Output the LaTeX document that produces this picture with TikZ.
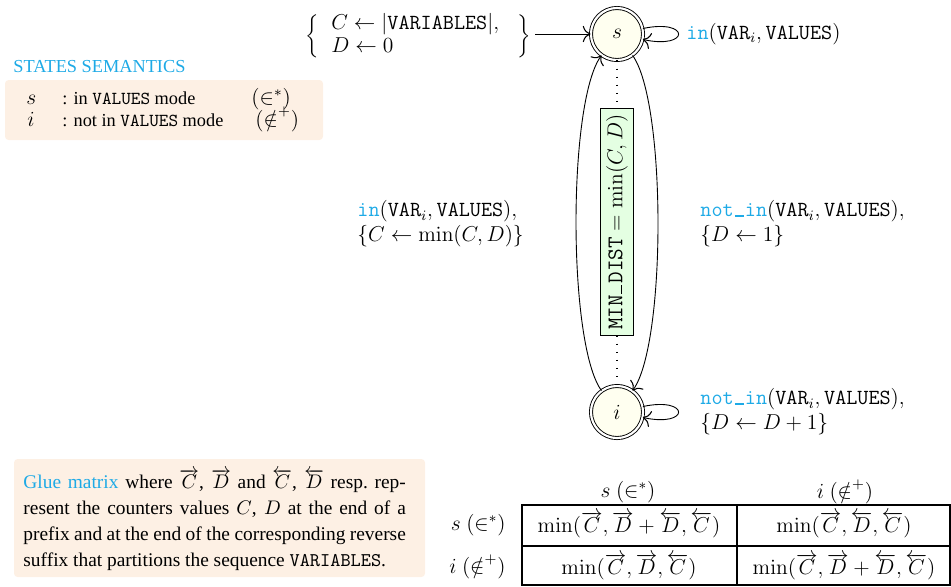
\documentclass[tikz,border=0pt]{standalone}
\usepackage[no-math]{fontspec}
\setmainfont{Liberation Serif}
\usetikzlibrary{arrows.meta}

\definecolor{kwblue}{RGB}{30,170,230}
\definecolor{notefill}{RGB}{253,240,228}
\definecolor{statefill}{RGB}{255,255,240}
\definecolor{boxgreen}{RGB}{228,255,226}

% underscore drawn as a rule on the baseline, as in OT1 typewriter text
\newcommand{\usc}{\kern0.05em\rule{0.42em}{0.8pt}\kern0.05em}
\newcommand{\kw}[1]{\textcolor{kwblue}{\texttt{#1}}}
\newcommand{\Cfw}{\overrightarrow{C}}
\newcommand{\Dfw}{\overrightarrow{D}}
\newcommand{\Cbw}{\overleftarrow{C}}
\newcommand{\Dbw}{\overleftarrow{D}}

\begin{document}
\begin{tikzpicture}[x=0.557pt, y=-0.557pt, line width=0.5pt,
  >={Computer Modern Rightarrow[scale=1.6, line width=0.6pt]},
  every node/.style={font=\fontsize{10.8}{14.5}\selectfont},
  state/.style={circle, draw, double, double distance=1.2pt, fill=statefill,
                minimum size=29pt, inner sep=0pt, font=\large},
  mathlbl/.style={align=left, anchor=west, inner sep=0pt,
                  font=\fontsize{12}{14}\selectfont},
  semtext/.style={anchor=base west, inner sep=0pt, font=\fontsize{10.2}{12}\selectfont},
  semmath/.style={anchor=base west, inner sep=0pt, font=\fontsize{12}{14}\selectfont},
  cell/.style={inner sep=0pt, font=\fontsize{12}{14}\selectfont},
  dots/.style={dash pattern=on 0.6pt off 3.9pt, line width=0.7pt},
  gridline/.style={line width=1.2pt},
  notebox/.style={fill=notefill, rounded corners=2pt}]
\useasboundingbox (0,0) rectangle (951,586);

% automaton states
\node[state] (s) at (617,34) {$s$};
\node[state] (i) at (617,412) {$i$};

% initialisation of the counters
\node[anchor=east, inner sep=0pt, font=\fontsize{12}{14}\selectfont] (init) at (531,36)
  {$\biggl\{\;\;\begin{array}{@{}l@{}} C\leftarrow|\texttt{VARIABLES}|,\\[-1pt] D\leftarrow 0\end{array}\;\;\;\biggr\}$};
\coordinate (initstart) at (535,34);
\draw[->] (initstart) -- (s);

% transitions
\draw[->] (s) to[out=12, in=-12, distance=27pt] (s);
\draw[->] (i) to[out=12, in=-12, distance=27pt] (i);
\draw[->] (i) to[bend left=36, looseness=0.44] (s);
\draw[->] (s) to[bend left=36, looseness=0.44] (i);

\node[mathlbl] (lss) at (686,34) {$\kw{in}(\texttt{VAR}_i,\texttt{VALUES})$};
\node[mathlbl] (lis) at (357,224) {$\kw{in}(\texttt{VAR}_i,\texttt{VALUES}),$\\$\{C\leftarrow\min(C,D)\}$};
\node[mathlbl] (lsi) at (700,224) {$\kw{not\usc in}(\texttt{VAR}_i,\texttt{VALUES}),$\\$\{D\leftarrow 1\}$};
\node[mathlbl] (lii) at (700,412) {$\kw{not\usc in}(\texttt{VAR}_i,\texttt{VALUES}),$\\$\{D\leftarrow D+1\}$};

% result box between the two states
\node[draw, fill=boxgreen, rotate=90, inner sep=3pt, font=\fontsize{12.5}{14}\selectfont] (md) at (617,222)
  {$\texttt{MIN\usc DIST}=\min(C,D)$};
\draw[dots] (s) -- (md.east);
\draw[dots] (md.west) -- (i);

% states semantics
\node[anchor=west, text=kwblue, inner sep=0pt, font=\fontsize{10.2}{12}\selectfont] (semtitle) at (13,67) {STATES SEMANTICS};
\fill[notebox] (5,80) rectangle (323,140);
\node[semmath] (ss) at (26,104) {$s$};
\node[semtext] (sd) at (62,104) {: in \texttt{VALUES} mode};
\node[semmath] (sm) at (251,104) {$(\in^*)$};
\node[semmath] (is) at (27,126) {$i$};
\node[semtext] (id) at (62,126) {: not in \texttt{VALUES} mode};
\node[semmath] (im) at (255,126) {$(\notin^+)$};

% glue matrix explanation
\fill[notebox] (14,459) rectangle (425,577);
\node[anchor=north west, inner sep=0pt, text width=213pt, align=justify] (glue) at (23,469)
  {\hyphenpenalty=10000\textcolor{kwblue}{Glue matrix} where $\Cfw$, $\Dfw$ and $\Cbw$, $\Dbw$ resp.\ rep-\linebreak
   resent the counters values $C$, $D$ at the end of a\linebreak
   prefix and at the end of the corresponding reverse\linebreak
   suffix that partitions the sequence \texttt{VARIABLES}.};

% glue matrix
\draw[gridline] (522,505) rectangle (950,585);
\draw[gridline] (737,505) -- (737,585);
\draw[gridline] (522,546) -- (950,546);
\node[cell] (h1) at (628,492) {$s\ (\in^*)$};
\node[cell] (h2) at (845,492) {$i\ (\notin^+)$};
\node[cell, anchor=east] (r1) at (506,525) {$s\ (\in^*)$};
\node[cell, anchor=east] (r2) at (506,567) {$i\ (\notin^+)$};
\node[cell] (c11) at (629,525) {$\min(\Cfw,\Dfw+\Dbw,\Cbw)$};
\node[cell] (c12) at (844,525) {$\min(\Cfw,\Dbw,\Cbw)$};
\node[cell] (c21) at (629,567) {$\min(\Cfw,\Dfw,\Cbw)$};
\node[cell] (c22) at (844,567) {$\min(\Cfw,\Dfw+\Dbw,\Cbw)$};
\end{tikzpicture}
\end{document}
